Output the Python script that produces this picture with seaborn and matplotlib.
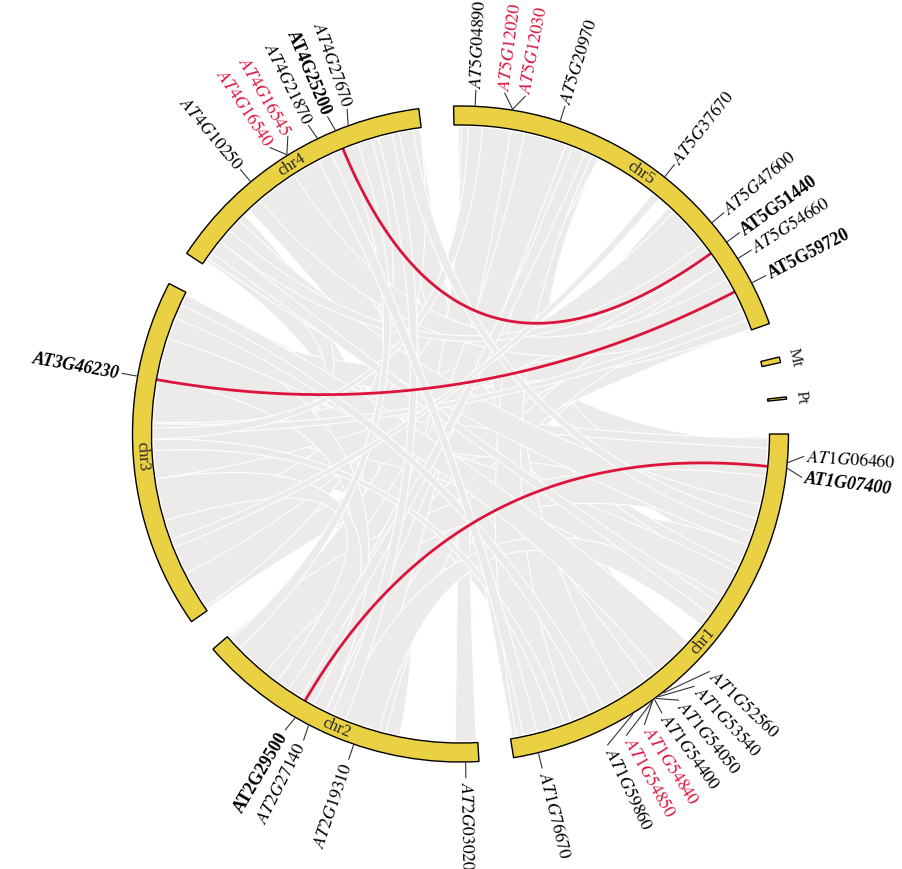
import numpy as np
import pandas as pd
import matplotlib
matplotlib.use("Agg")
import matplotlib.pyplot as plt
from matplotlib.patches import Wedge, PathPatch
from matplotlib.path import Path
import seaborn as sns

# ---------------- data ----------------
chrom_names = ["chr1", "chr2", "chr3", "chr4", "chr5", "Mt", "Pt"]
chrom_sizes = [30.43, 19.70, 23.46, 18.59, 26.98, 0.37, 0.15]  # Mb

gene_names = ["AT1G06460", "AT1G07400", "AT1G52560", "AT1G53540", "AT1G54050",
              "AT1G54400", "AT1G54840", "AT1G54850", "AT1G59860", "AT1G76670",
              "AT2G03020", "AT2G19310", "AT2G27140", "AT2G29500", "AT3G46230",
              "AT4G10250", "AT4G16540", "AT4G16545", "AT4G21870", "AT4G25200",
              "AT4G27670", "AT5G04890", "AT5G12020", "AT5G12030", "AT5G20970",
              "AT5G37670", "AT5G47600", "AT5G51440", "AT5G54660", "AT5G59720"]
gene_chrom = ["chr1"] * 10 + ["chr2"] * 4 + ["chr3"] + ["chr4"] * 6 + ["chr5"] * 9
gene_pos = [1.87, 2.27, 19.58, 19.98, 20.18, 20.31, 20.47, 20.49, 22.04, 28.77,
            0.88, 8.37, 11.60, 12.62, 16.99,
            6.35, 9.32, 9.33, 11.60, 12.90, 13.81,
            1.42, 3.89, 3.90, 7.12, 14.96, 19.30, 20.90, 22.21, 24.06]
gene_highlight = ["AT4G16540", "AT4G16545", "AT5G12020", "AT5G12030",
                  "AT1G54840", "AT1G54850"]
gene_bold = ["AT4G25200", "AT5G51440", "AT5G59720", "AT2G29500"]
gene_bold_italic = ["AT1G07400", "AT3G46230"]

# gene pairs joined by red links
pair_a = ["AT1G07400", "AT3G46230", "AT4G25200"]
pair_b = ["AT2G29500", "AT5G59720", "AT5G51440"]

# collinear blocks (Mb)
blk_chr_a = (["chr1"] * 14 + ["chr2"] * 7 + ["chr3"] * 6 + ["chr4"] * 5 + ["chr5"] * 4
             + ["chr3", "chr1", "chr1", "chr1", "chr1", "chr5", "chr5", "chr5",
                "chr2", "chr2", "chr4", "chr4", "chr3", "chr3", "chr2"]
             + ["chr3", "chr3", "chr5", "chr4", "chr1", "chr2", "chr5", "chr1",
                "chr5", "chr2", "chr1", "chr4"])
blk_a1 = [0.2, 0.5, 4.0, 5.0, 8.0, 9.5, 11.5, 16.0, 17.0, 20.0, 21.0, 24.0, 25.0, 27.5,
          0.1, 5.5, 6.5, 10.0, 14.0, 15.5, 17.0,
          0.1, 6.5, 14.5, 15.5, 19.0, 20.0,
          5.0, 8.5, 12.0, 15.0, 2.0,
          5.5, 9.0, 22.0, 3.0,
          12.5, 10.0, 3.0, 22.0, 26.0, 4.0, 0.5, 17.0,
          7.0, 11.0, 0.5, 6.0, 17.0, 20.0, 12.0,
          12.0, 13.2, 1.0, 2.0, 12.5, 18.5, 8.5, 6.0,
          15.0, 9.5, 23.5, 11.0]
blk_a2 = [4.0, 3.5, 8.0, 9.0, 12.0, 13.5, 14.0, 20.0, 21.0, 24.0, 25.0, 28.0, 28.5, 30.3,
          1.6, 9.0, 10.0, 13.5, 17.0, 19.6, 19.6,
          2.5, 10.0, 17.0, 19.0, 22.0, 23.3,
          8.5, 12.0, 15.5, 18.5, 4.5,
          10.0, 10.5, 24.5, 6.0,
          16.5, 14.0, 7.0, 26.0, 30.0, 8.0, 4.0, 21.0,
          10.0, 14.0, 4.0, 9.0, 21.0, 23.3, 15.0,
          12.8, 13.9, 2.0, 3.0, 13.5, 19.4, 9.5, 7.0,
          15.6, 10.5, 24.5, 12.0]
blk_chr_b = ["chr3", "chr4", "chr3", "chr5", "chr2", "chr4", "chr3", "chr3", "chr5", "chr2",
             "chr4", "chr3", "chr5", "chr4",
             "chr5", "chr4", "chr5", "chr5", "chr4", "chr5", "chr1",
             "chr5", "chr5", "chr5", "chr1", "chr5", "chr2",
             "chr1", "chr1", "chr2", "chr3", "chr3",
             "chr2", "chr3", "chr2", "chr2",
             "chr1", "chr3", "chr2", "chr5", "chr5", "chr3", "chr2", "chr3",
             "chr1", "chr5", "chr1", "chr5", "chr2", "chr1", "chr3",
             "chr1", "chr5", "chr3", "chr5", "chr4", "chr4", "chr2", "chr4",
             "chr3", "chr4", "chr3", "chr1"]
blk_b1 = [7.0, 12.0, 17.0, 2.0, 8.5, 6.0, 20.5, 2.5, 7.0, 13.0, 14.5, 9.5, 0.3, 16.0,
          0.3, 0.3, 16.5, 21.0, 10.0, 19.0, 1.0,
          24.0, 17.0, 22.0, 0.3, 24.5, 10.5,
          20.0, 10.5, 11.0, 0.3, 11.0,
          15.0, 4.0, 12.5, 16.5,
          1.0, 13.0, 16.0, 3.0, 7.0, 3.0, 8.0, 10.0,
          12.0, 5.0, 5.0, 23.0, 11.0, 16.0, 7.0,
          26.5, 25.5, 12.8, 20.0, 1.0, 13.0, 13.0, 17.0,
          5.0, 15.5, 21.5, 28.5]
blk_b2 = [11.0, 15.5, 20.5, 6.0, 12.0, 9.5, 23.3, 6.5, 10.5, 16.5, 18.0, 13.0, 3.5, 18.5,
          1.8, 3.5, 19.5, 24.5, 13.0, 23.0, 3.5,
          26.9, 20.0, 24.5, 3.0, 26.9, 13.5,
          24.0, 14.0, 14.5, 3.5, 13.0,
          19.0, 6.5, 15.0, 19.0,
          5.0, 17.0, 19.6, 7.0, 10.0, 7.0, 11.0, 14.0,
          14.5, 8.0, 8.0, 26.0, 14.0, 19.0, 10.0,
          27.3, 26.2, 13.6, 21.0, 2.0, 14.0, 14.0, 18.0,
          5.6, 16.5, 22.5, 29.5]

# ---------------- layout ----------------
GAP = 6.1
SCALE = (360.0 - GAP * len(chrom_sizes)) / sum(chrom_sizes)
starts = {}
cur = 90.0
for name, size in zip(chrom_names, chrom_sizes):
    starts[name] = cur
    cur += size * SCALE + GAP

R_OUT, R_IN, R_LINK = 328.0, 309.0, 307.5
YELLOW = "#EAD143"
RED = "#DC143C"
RIBBON = "#EDEAEA"


def angle(chrom, pos):
    return starts[chrom] + pos * SCALE


def xy(theta, r):
    t = np.deg2rad(theta)
    return r * np.sin(t), r * np.cos(t)


sns.set_theme(style="white")
plt.rcParams["font.family"] = ["Liberation Serif", "DejaVu Serif"]
plt.rcParams["mathtext.fontset"] = "stix"

fig = plt.figure(figsize=(9.03, 8.70), dpi=100)
ax = fig.add_axes([0, 0, 1, 1])

# ---------------- ribbons ----------------
for ca, a1, a2, cb, b1, b2 in zip(blk_chr_a, blk_a1, blk_a2, blk_chr_b, blk_b1, blk_b2):
    ta1, ta2 = angle(ca, a1), angle(ca, a2)
    tb1, tb2 = angle(cb, b1), angle(cb, b2)
    n = 24
    verts, codes = [], []
    for i, t in enumerate(np.linspace(ta1, ta2, n)):
        verts.append(xy(t, R_LINK))
        codes.append(Path.MOVETO if i == 0 else Path.LINETO)
    verts += [(0, 0), xy(tb1, R_LINK)]
    codes += [Path.CURVE3, Path.CURVE3]
    for t in np.linspace(tb1, tb2, n)[1:]:
        verts.append(xy(t, R_LINK))
        codes.append(Path.LINETO)
    verts += [(0, 0), xy(ta1, R_LINK), (0, 0)]
    codes += [Path.CURVE3, Path.CURVE3, Path.CLOSEPOLY]
    ax.add_patch(PathPatch(Path(verts, codes), facecolor=RIBBON,
                           edgecolor="white", lw=0.8, zorder=1))

# ---------------- red gene-pair links ----------------
gene_lookup = {g: (c, p) for g, c, p in zip(gene_names, gene_chrom, gene_pos)}
tt = np.linspace(0, 1, 120)
for ga, gb in zip(pair_a, pair_b):
    p0 = np.array(xy(angle(*gene_lookup[ga]), R_IN))
    p2 = np.array(xy(angle(*gene_lookup[gb]), R_IN))
    curve = ((1 - tt)[:, None] ** 2) * p0 + (tt[:, None] ** 2) * p2
    df = pd.DataFrame({"x": curve[:, 0], "y": curve[:, 1]})
    sns.lineplot(data=df, x="x", y="y", sort=False, color=RED, lw=2.0,
                 ax=ax, zorder=3, legend=False)


# ---------------- chromosome ring ----------------
def tangent_rotation(theta):
    th = theta % 360
    rot = -th
    if 90 < th < 270:
        rot += 180
    return rot


for name, size in zip(chrom_names, chrom_sizes):
    c0 = starts[name]
    c1 = c0 + size * SCALE
    ax.add_patch(Wedge((0, 0), R_OUT, 90 - c1, 90 - c0, width=R_OUT - R_IN,
                       facecolor=YELLOW, edgecolor="black", lw=1.0, zorder=4))
    mid = (c0 + c1) / 2
    if name in ("Mt", "Pt"):
        x, y = xy(mid, 343)
    else:
        x, y = xy(mid, (R_OUT + R_IN) / 2)
    ax.text(x, y, name, fontsize=12, rotation=tangent_rotation(mid),
            ha="center", va="center", rotation_mode="anchor", zorder=5)

# ---------------- gene ticks and labels ----------------
gene_theta = np.array([angle(c, p) for c, p in zip(gene_chrom, gene_pos)]) % 360
order = np.argsort(gene_theta)
MIN_SEP = 3.5
groups = [[i] for i in order]


def place(group):
    m = np.mean(gene_theta[group])
    k = len(group)
    return [m + (j - (k - 1) / 2) * MIN_SEP for j in range(k)]


changed = True
while changed:
    changed = False
    for i in range(len(groups) - 1):
        if place(groups[i])[-1] + MIN_SEP > place(groups[i + 1])[0] + 1e-9:
            groups[i] = groups[i] + groups[i + 1]
            del groups[i + 1]
            changed = True
            break
label_theta = np.zeros(len(gene_names))
for g in groups:
    for idx, t in zip(g, place(g)):
        label_theta[idx] = t

for i, name in enumerate(gene_names):
    th, lt = gene_theta[i], label_theta[i]
    x0, y0 = xy(th, R_OUT + 1)
    x1, y1 = xy(lt, 344)
    ax.plot([x0, x1], [y0, y1], color="#333333", lw=0.8, zorder=5)
    xt, yt = xy(lt, 347)
    if lt % 360 < 180:
        rot, ha = 90 - lt, "left"
    else:
        rot, ha = 270 - lt, "right"
    color = RED if name in gene_highlight else "black"
    kw = dict(fontsize=12.8, rotation=rot, ha=ha, va="center",
              rotation_mode="anchor", color=color, zorder=6)
    if name in gene_bold:
        ax.text(xt, yt, name, fontweight="bold", **kw)
    elif name in gene_bold_italic:
        ax.text(xt, yt, name, fontweight="bold", fontstyle="italic", **kw)
    else:
        ax.text(xt, yt, "$" + name + "$", **kw)

ax.set_xlim(-460.5, 442.5)
ax.set_ylim(-435, 435)
ax.set_aspect("equal")
ax.axis("off")
fig.savefig("out.png", dpi=100, facecolor="white")
